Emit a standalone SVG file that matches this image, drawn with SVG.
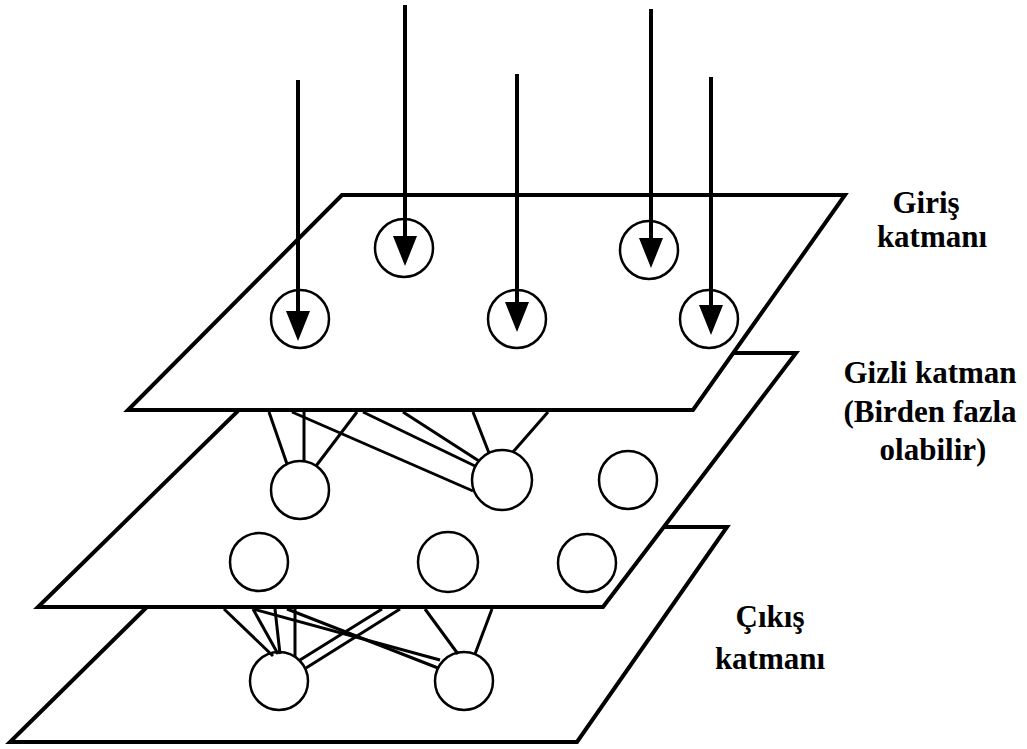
<svg xmlns="http://www.w3.org/2000/svg" width="1027" height="749" viewBox="0 0 1027 749">
<style>
.plane{fill:#fff;stroke:#000;stroke-width:4;stroke-linejoin:miter}
.node{fill:#fff;stroke:#000;stroke-width:2.5}
.link{stroke:#000;stroke-width:3;fill:none}
.arrow{stroke:#000;stroke-width:4;fill:none}
</style>
<defs>
<marker id="head" markerUnits="userSpaceOnUse" markerWidth="30" markerHeight="26" refX="0" refY="13" orient="auto" viewBox="0 0 30 26">
<path d="M0,1 L30,13 L0,25 Z" fill="#000"/>
</marker>
</defs>
<rect width="1027" height="749" fill="#fff"/>

<g id="plane-output"><polygon class="plane" points="228,527 727,527 577,742 10,742"/></g>
<g id="plane-hidden"><polygon class="plane" points="297,353 796,353 603,607 38,607"/></g>
<g id="plane-input"><polygon class="plane" points="342,195 845,195 693,410 128,410"/></g>

<g id="input-nodes">
<circle id="in1" class="node" cx="300" cy="319" r="29"/>
<circle id="in2" class="node" cx="404" cy="248" r="29"/>
<circle id="in3" class="node" cx="517" cy="319" r="29"/>
<circle id="in4" class="node" cx="649" cy="250" r="29"/>
<circle id="in5" class="node" cx="709" cy="319" r="29"/>
</g>
<g id="hidden-nodes">
<circle id="h1" class="node" cx="300" cy="490" r="29"/>
<circle id="h2" class="node" cx="502" cy="480" r="30"/>
<circle id="h3" class="node" cx="628" cy="480" r="29"/>
<circle id="h4" class="node" cx="259" cy="562" r="29"/>
<circle id="h5" class="node" cx="448" cy="562" r="30"/>
<circle id="h6" class="node" cx="587" cy="563" r="29"/>
</g>
<g id="output-nodes">
<circle id="o1" class="node" cx="279" cy="681" r="29"/>
<circle id="o2" class="node" cx="464" cy="681" r="29"/>
</g>

<g id="connectors">
<line class="link" x1="269" y1="412" x2="287" y2="464"/>
<line class="link" x1="304" y1="412" x2="304" y2="461"/>
<line class="link" x1="357" y1="412" x2="316" y2="466"/>
<line class="link" x1="292" y1="412" x2="473" y2="491"/>
<line class="link" x1="363" y1="412" x2="475" y2="466"/>
<line class="link" x1="403" y1="412" x2="479" y2="461"/>
<line class="link" x1="473" y1="412" x2="489" y2="453"/>
<line class="link" x1="548" y1="412" x2="513" y2="452"/>

<line class="link" x1="224" y1="609" x2="273" y2="656"/>
<line class="link" x1="253" y1="609" x2="278" y2="654"/>
<line class="link" x1="275" y1="609" x2="280" y2="654"/>
<line class="link" x1="295" y1="609" x2="295" y2="657"/>
<line class="link" x1="382" y1="609" x2="300" y2="660"/>
<line class="link" x1="400" y1="609" x2="306" y2="668"/>
<line class="link" x1="253" y1="609" x2="440" y2="660"/>
<line class="link" x1="287" y1="609" x2="438" y2="668"/>
<line class="link" x1="425" y1="609" x2="458" y2="654"/>
<line class="link" x1="492" y1="609" x2="475" y2="654"/>

<line class="arrow" x1="298" y1="80" x2="298" y2="311" marker-end="url(#head)"/>
<line class="arrow" x1="405" y1="5" x2="405" y2="236" marker-end="url(#head)"/>
<line class="arrow" x1="517" y1="74" x2="517" y2="302" marker-end="url(#head)"/>
<line class="arrow" x1="651" y1="9" x2="651" y2="238" marker-end="url(#head)"/>
<line class="arrow" x1="711" y1="77" x2="711" y2="305" marker-end="url(#head)"/>
</g>

<g id="labels" font-family="'Liberation Serif', 'Times New Roman', serif" font-weight="bold" font-size="31" fill="#000" text-anchor="middle">
<text x="926" y="213">Giriş</text>
<text x="932" y="247">katmanı</text>
<text x="930" y="383">Gizli katman</text>
<text x="930" y="422">(Birden fazla</text>
<text x="933" y="460">olabilir)</text>
<text x="770" y="627">Çıkış</text>
<text x="770" y="669">katmanı</text>
</g>
</svg>
